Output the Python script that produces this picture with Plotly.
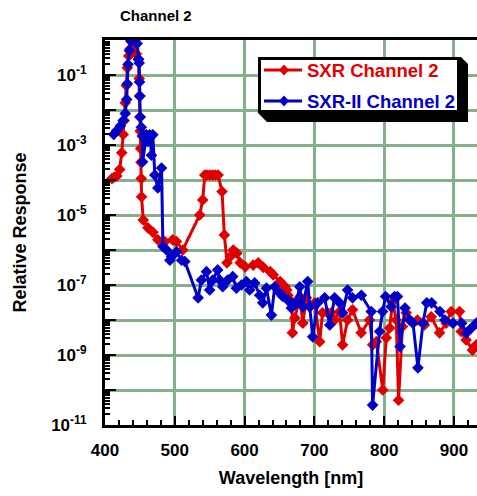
import plotly.graph_objects as go

# ---------------- data ----------------
sxr_wavelength = [410, 413, 417, 421, 424, 426, 427.5, 429, 430.5, 432, 434, 436, 438, 440, 442,
                  445, 448, 449, 449.5, 450, 450.5, 451, 451.5, 452, 452.4, 454.8, 461.5, 468.7,
                  475.8, 485.8, 497, 502.3, 511.4, 535.7, 540, 543, 546, 550, 554, 558, 562,
                  567.7, 571, 574.8, 579.5, 583.8, 589, 593.8, 601, 612.4, 619.6, 626.8, 636.8,
                  641, 651, 658, 660.5, 662, 667.8, 668.5, 672, 679.3, 683.5, 688.5, 693.4,
                  700.4, 707.6, 711.7, 719, 724.2, 729, 736.1, 740.4, 747.6, 754.7, 767, 779,
                  783.5, 788.8, 798, 803, 807.9, 812, 817.3, 820.6, 826.2, 831.5, 836.2, 847.7,
                  857.7, 867.4, 879.3, 888.8, 896, 907.9, 910.3, 917.4, 926.5, 932]
sxr_response = [1.1e-4, 1.2e-4, 1.3e-4, 2.0e-4, 6.0e-4, 2.0e-3, 5.0e-3, 1.6e-2, 5.0e-2, 0.16,
                0.35, 0.56, 0.89, 0.95, 0.79, 0.40, 0.28, 0.079, 0.025, 6.3e-3, 2.5e-3, 7.9e-4,
                3.2e-4, 1.1e-4, 3.3e-5, 7.2e-6, 4.3e-6, 3.2e-6, 1.95e-6, 1.74e-6, 1.95e-6,
                1.74e-6, 1.0e-6, 1.0e-5, 2.7e-5, 1.38e-4, 1.38e-4, 1.38e-4, 1.38e-4, 1.38e-4,
                1.38e-4, 4.7e-5, 2.7e-6, 4.3e-7, 6.5e-7, 1.0e-6, 8.1e-7, 4.3e-7, 3.3e-7,
                3.7e-7, 4.3e-7, 3.2e-7, 2.4e-7, 1.95e-7, 1.26e-7, 8.9e-8, 7.2e-8, 5.1e-8,
                3.3e-8, 4.3e-9, 1.15e-8, 4.6e-8, 8.1e-9, 4.3e-8, 2.4e-8, 3.1e-8, 2.4e-9,
                1.6e-8, 1.6e-8, 1.6e-8, 1.0e-8, 1.74e-8, 1.95e-9, 1.0e-8, 1.95e-8, 4.3e-9,
                1.0e-8, 1.95e-9, 2.4e-9, 1.0e-10, 3.1e-9, 5.9e-9, 3.3e-8, 1.0e-8, 5.1e-11,
                6.5e-9, 1.6e-8, 1.0e-8, 1.0e-8, 7.2e-9, 1.23e-8, 4.3e-9, 8.1e-9, 1.74e-8,
                1.74e-8, 4.7e-9, 2.7e-9, 1.38e-9, 1.95e-9]

sxr2_wavelength = [412.5, 417, 422, 426, 429, 431, 432, 433, 435, 437, 440, 443, 446, 448, 449,
                   449.5, 450, 450.5, 452, 453.5, 453.8, 459.5, 461.4, 464.2, 466.6, 468.5,
                   471.4, 475.7, 481, 483, 488.3, 493, 495.4, 502.6, 509.7, 514.4, 533.4, 538.2,
                   545.4, 550, 554.4, 561.5, 564.4, 568.7, 575.8, 583, 588.3, 595.4, 602.6,
                   607.3, 614.4, 621.6, 626, 631.3, 638.4, 643.2, 650.3, 654.6, 661.8, 667,
                   674.2, 679, 683.3, 690.4, 693.3, 697.6, 704.7, 714.7, 722, 729, 736.2, 740.5,
                   747.6, 754.7, 767.2, 781.5, 783.4, 793.4, 797.7, 802, 810, 814.7, 819, 822.7,
                   829.9, 837, 841.3, 848.4, 855.6, 861, 868, 880, 887, 898.6, 911, 918, 925, 932]
sxr2_response = [2.0e-3, 2.6e-3, 3.5e-3, 5.0e-3, 7.9e-3, 0.02, 0.056, 0.2, 0.5, 0.95, 1.0, 1.0,
                 0.79, 0.28, 0.22, 0.063, 0.025, 6.3e-3, 3.2e-3, 1.8e-3, 3.3e-4, 1.95e-3,
                 1.26e-3, 1.95e-3, 5.1e-4, 1.95e-3, 1.38e-4, 5.9e-5, 2.2e-4, 1.26e-6, 1.0e-6,
                 5.1e-7, 6.5e-7, 8.9e-7, 5.1e-7, 4.7e-7, 4.3e-8, 1.38e-7, 2.4e-7, 7.2e-8,
                 1.38e-7, 2.7e-7, 1.38e-7, 8.9e-8, 1.38e-7, 1.74e-7, 8.1e-8, 1.0e-7, 1.26e-7,
                 7.2e-8, 1.15e-7, 5.1e-8, 3.1e-8, 8.1e-8, 1.38e-8, 8.9e-8, 5.9e-8, 4.7e-8,
                 3.7e-8, 2.2e-8, 3.3e-8, 8.9e-8, 2.4e-8, 1.26e-7, 2.4e-8, 3.3e-9, 3.1e-8,
                 4.3e-8, 7.2e-9, 4.3e-8, 3.1e-8, 1.6e-8, 7.2e-8, 4.3e-8, 5.1e-8, 1.74e-8,
                 3.7e-11, 4.7e-9, 1.74e-8, 4.7e-8, 2.4e-8, 4.7e-8, 4.7e-8, 1.74e-9, 2.2e-8,
                 1.0e-8, 8.1e-9, 4.3e-10, 8.1e-9, 3.1e-8, 3.1e-8, 1.74e-8, 1.0e-8, 8.1e-9,
                 8.1e-9, 4.3e-9, 5.9e-9, 8.1e-9]

series_names = ["SXR Channel 2", "SXR-II Channel 2"]
series_colors = ["#e00000", "#0000c8"]

x_ticks = [400, 500, 600, 700, 800, 900]
y_exponents = list(range(0, -12, -1))
# ---------------------------------------

FONT = "Liberation Sans, Arial, Helvetica, sans-serif"
GRID = "#86b08c"

fig = go.Figure()
for name, color, xs, ys in [
    (series_names[0], series_colors[0], sxr_wavelength, sxr_response),
    (series_names[1], series_colors[1], sxr2_wavelength, sxr2_response),
]:
    fig.add_trace(go.Scatter(
        x=xs, y=ys, mode="lines+markers", name=name, showlegend=False,
        line=dict(color=color, width=3),
        marker=dict(symbol="diamond", size=9, color=color),
        cliponaxis=True,
    ))

y_tickvals = [10.0 ** e for e in y_exponents]
y_ticktext = [f"10<sup>{e}</sup>" if e % 2 else "" for e in y_exponents]
y_minor = [m * 10.0 ** e for e in range(-11, 0) for m in range(2, 10)]

W, H = 477, 496
L, R, T, B = 105, 0, 40, 71
pw, ph = W - L - R, H - T - B

def px(xp):
    return (xp - L) / pw

def py(yp):
    return (H - B - yp) / ph

def poly(pts):
    return "M " + " L ".join(f"{px(a):.4f},{py(b):.4f}" for a, b in pts) + " Z"

# ---- hand-built legend box (with drop shadow) ----
box_l, box_t, box_r, box_b = 258, 57, 460, 113
shapes = [
    dict(type="path", xref="paper", yref="paper", layer="above",
         path=poly([(box_l, box_t), (box_r + 1, box_t), (468, 64), (468, 122),
                    (267, 122), (box_l, box_b)]),
         fillcolor="black", line=dict(width=0)),
    dict(type="rect", xref="paper", yref="paper", layer="above",
         x0=px(box_l + 1.5), x1=px(box_r - 1.5), y0=py(box_t + 1.5), y1=py(box_b - 1.5),
         fillcolor="white", line=dict(color="black", width=3)),
]
annotations = [dict(text="Channel 2", xref="paper", yref="paper",
                    x=px(118), y=py(15), xanchor="left", yanchor="middle",
                    showarrow=False, font=dict(family=FONT, size=15, weight="bold"))]
row_y = [70, 101]
for name, color, yy in zip(series_names, series_colors, row_y):
    shapes.append(dict(type="line", xref="paper", yref="paper", layer="above",
                       x0=px(264), x1=px(302), y0=py(yy), y1=py(yy),
                       line=dict(color=color, width=3)))
    cx = 284
    shapes.append(dict(type="path", xref="paper", yref="paper", layer="above",
                       path=poly([(cx, yy - 5.5), (cx + 5, yy), (cx, yy + 5.5), (cx - 5, yy)]),
                       fillcolor=color, line=dict(width=0)))
    annotations.append(dict(text=name, xref="paper", yref="paper",
                            x=px(305), y=py(yy), xanchor="left", yanchor="middle",
                            showarrow=False,
                            font=dict(family=FONT, size=18.5, weight="bold", color=color)))

fig.update_layout(
    width=W, height=H,
    margin=dict(l=L, r=R, t=T, b=B, pad=0),
    paper_bgcolor="white", plot_bgcolor="white",
    font=dict(family=FONT, size=17, color="black", weight="bold"),
    showlegend=False,
    shapes=shapes,
    annotations=annotations,
    xaxis=dict(
        range=[400, 933], tickvals=x_ticks, ticktext=[str(v) for v in x_ticks],
        showgrid=True, gridcolor=GRID, gridwidth=3,
        showline=True, linecolor="black", linewidth=3, mirror=True,
        ticks="inside", ticklen=9, tickwidth=2, tickcolor="black",
        minor=dict(dtick=20, tick0=400, ticks="inside", ticklen=5, tickwidth=2,
                   tickcolor="black", showgrid=False),
        tickfont=dict(family=FONT, size=17, weight="bold"),
        ticklabelstandoff=8,
        title=dict(text="Wavelength [nm]", font=dict(family=FONT, size=18, weight="bold"),
                   standoff=12),
        zeroline=False,
    ),
    yaxis=dict(
        type="log", range=[-11, 0],
        tickvals=y_tickvals, ticktext=y_ticktext,
        showgrid=True, gridcolor=GRID, gridwidth=3,
        showline=True, linecolor="black", linewidth=3,
        ticks="inside", ticklen=11, tickwidth=2, tickcolor="black",
        minor=dict(tickvals=y_minor, ticks="inside", ticklen=5, tickwidth=2,
                   tickcolor="black", showgrid=False),
        tickfont=dict(family=FONT, size=17, weight="bold"),
        ticklabelstandoff=12,
        title=dict(text="Relative Response", font=dict(family=FONT, size=18, weight="bold"),
                   standoff=20),
        zeroline=False,
    ),
)

fig.write_html("out.html")
